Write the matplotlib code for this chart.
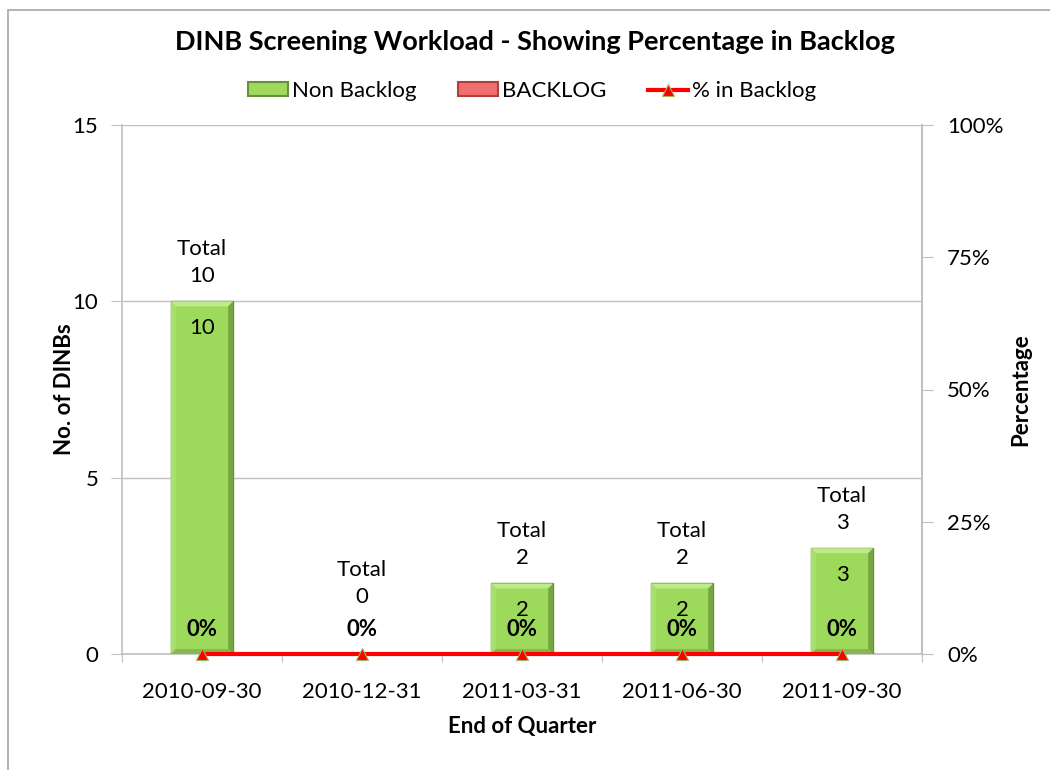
import numpy as np
import matplotlib.pyplot as plt
from matplotlib.patches import Rectangle, Polygon
from matplotlib.lines import Line2D

plt.rcParams['font.family'] = ['Lato', 'DejaVu Sans']

# quarterly screening counts
quarters = ['2010-09-30', '2010-12-31', '2011-03-31', '2011-06-30', '2011-09-30']
non_backlog = [10, 0, 2, 2, 3]
backlog = [0, 0, 0, 0, 0]
pct_backlog = [0, 0, 0, 0, 0]   # percent of total in backlog

GREEN = '#9DDA5C'
GREEN_EDGE = '#6B8E3D'
RED_FILL = '#F26D6D'
RED_EDGE = '#B04040'
RED = '#FF0000'
GRID = '#BFBFBF'
FS = 16

x = np.arange(len(quarters))
total = np.array(non_backlog) + np.array(backlog)

fig = plt.figure(figsize=(10.5, 7.7), dpi=100)
# chart area border
fig.patches.append(Rectangle((8/1050, -0.05), 1.2, 1 - 10/770 + 0.05,
                             transform=fig.transFigure, fill=False,
                             edgecolor='#A6A6A6', linewidth=1.2))

ax = fig.add_axes([122/1050, 1 - 654/770, 800/1050, 529/770])
ax.set_xlim(-0.5, len(quarters) - 0.5)
ax.set_ylim(0, 15)
ax.set_yticks([0, 5, 10, 15])
ax.yaxis.grid(True, color=GRID, linewidth=1)
ax.set_axisbelow(True)
ax.spines['top'].set_visible(False)
for s in ['left', 'right', 'bottom']:
    ax.spines[s].set_color(GRID)
    ax.spines[s].set_linewidth(1.2)


def bevel(bars, light, mid, dark, darker, px=5):
    # fake the raised-bevel look with four edge strips per bar
    for b in bars:
        if b.get_height() <= 0:
            continue
        (x0, y0), (x1, y1) = ax.transData.transform(
            [(b.get_x(), b.get_y()), (b.get_x() + b.get_width(), b.get_y() + b.get_height())])
        strips = [
            ([(x0, y1), (x1, y1), (x1 - px, y1 - px), (x0 + px, y1 - px)], light),
            ([(x0, y0), (x0, y1), (x0 + px, y1 - px), (x0 + px, y0 + px)], mid),
            ([(x1, y0), (x1, y1), (x1 - px, y1 - px), (x1 - px, y0 + px)], dark),
            ([(x0, y0), (x1, y0), (x1 - px, y0 + px), (x0 + px, y0 + px)], darker),
        ]
        for pts, c in strips:
            ax.add_patch(Polygon(pts, closed=True, transform=None, facecolor=c,
                                 edgecolor='none', zorder=3.5))


green_bars = ax.bar(x, non_backlog, width=0.39, color=GREEN, edgecolor=GREEN_EDGE,
                    linewidth=1.0, zorder=3)
bevel(green_bars, '#BDEB8A', '#A8E070', '#76A542', '#86B84E')
has_backlog = [b > 0 for b in backlog]
red_bars = ax.bar(x, backlog, width=0.39, bottom=non_backlog, color=RED_FILL,
                  edgecolor=[RED_EDGE if h else 'none' for h in has_backlog],
                  linewidth=1.0, zorder=3)
bevel(red_bars, '#F7A0A0', '#F48585', '#C04848', '#D05858')

# x ticks between categories, labels at centers
ax.set_xticks(np.arange(len(quarters) + 1) - 0.5)
ax.set_xticklabels([])
ax.set_xticks(x, minor=True)
ax.set_xticklabels(quarters, minor=True, fontsize=FS)
ax.tick_params(axis='x', which='minor', length=0, pad=20)
ax.tick_params(axis='x', which='major', length=6, color=GRID, direction='out')
ax.tick_params(axis='y', length=8, color=GRID, labelsize=FS, pad=9)

ax.set_xlabel('End of Quarter', fontsize=FS, fontweight='bold', labelpad=10)
ax.set_ylabel('No. of DINBs', fontsize=FS, fontweight='bold', labelpad=-2)

# value labels inside bars
for xi, v in zip(x, non_backlog):
    if v > 0:
        ax.annotate(str(v), (xi, v), xytext=(0, -19), textcoords='offset points',
                    ha='center', va='center', fontsize=FS, zorder=5)
# totals above bars
for xi, t in zip(x, total):
    ax.text(xi, max(t, 0.9) + 1.1, 'Total\n%d' % t, ha='center', va='center',
            fontsize=FS, linespacing=1.45, zorder=5)

ax2 = ax.twinx()
ax2.set_ylim(0, 100)
ax2.set_yticks([0, 25, 50, 75, 100])
ax2.set_yticklabels(['%d%%' % v for v in [0, 25, 50, 75, 100]])
ax2.tick_params(axis='y', length=8, color=GRID, labelsize=FS, pad=10)
for s in ['top', 'bottom', 'left']:
    ax2.spines[s].set_visible(False)
ax2.spines['right'].set_color(GRID)
ax2.spines['right'].set_linewidth(1.2)
ax2.set_ylabel('Percentage', fontsize=FS, fontweight='bold', labelpad=5)

ax2.plot(x, pct_backlog, color=RED, linewidth=3, marker='^', markersize=8,
         markerfacecolor=RED, markeredgecolor='#9BBB59', markeredgewidth=0.8,
         zorder=4, clip_on=False)
for xi, p in zip(x, pct_backlog):
    ax2.annotate('%d%%' % p, (xi, p), xytext=(0, 18), textcoords='offset points',
                 ha='center', va='center', fontsize=FS, fontweight='bold', zorder=6)

fig.suptitle('DINB Screening Workload - Showing Percentage in Backlog',
             x=535/1050, y=1 - 42/770, fontsize=19.5, fontweight='bold', va='center')

handles = [Rectangle((0, 0), 1, 1, facecolor=GREEN, edgecolor=GREEN_EDGE, linewidth=1.5),
           Rectangle((0, 0), 1, 1, facecolor=RED_FILL, edgecolor=RED_EDGE, linewidth=1.5),
           Line2D([], [], color=RED, linewidth=3, marker='^', markersize=8,
                  markeredgecolor='#9BBB59', markeredgewidth=0.8)]
fig.legend(handles, ['Non Backlog', 'BACKLOG', '% in Backlog'], loc='center',
           bbox_to_anchor=(532/1050, 1 - 91/770), ncol=3, frameon=False,
           fontsize=FS, handlelength=1.8, handleheight=0.6, handletextpad=0.15,
           columnspacing=1.9)

fig.savefig('out.png', dpi=100)
